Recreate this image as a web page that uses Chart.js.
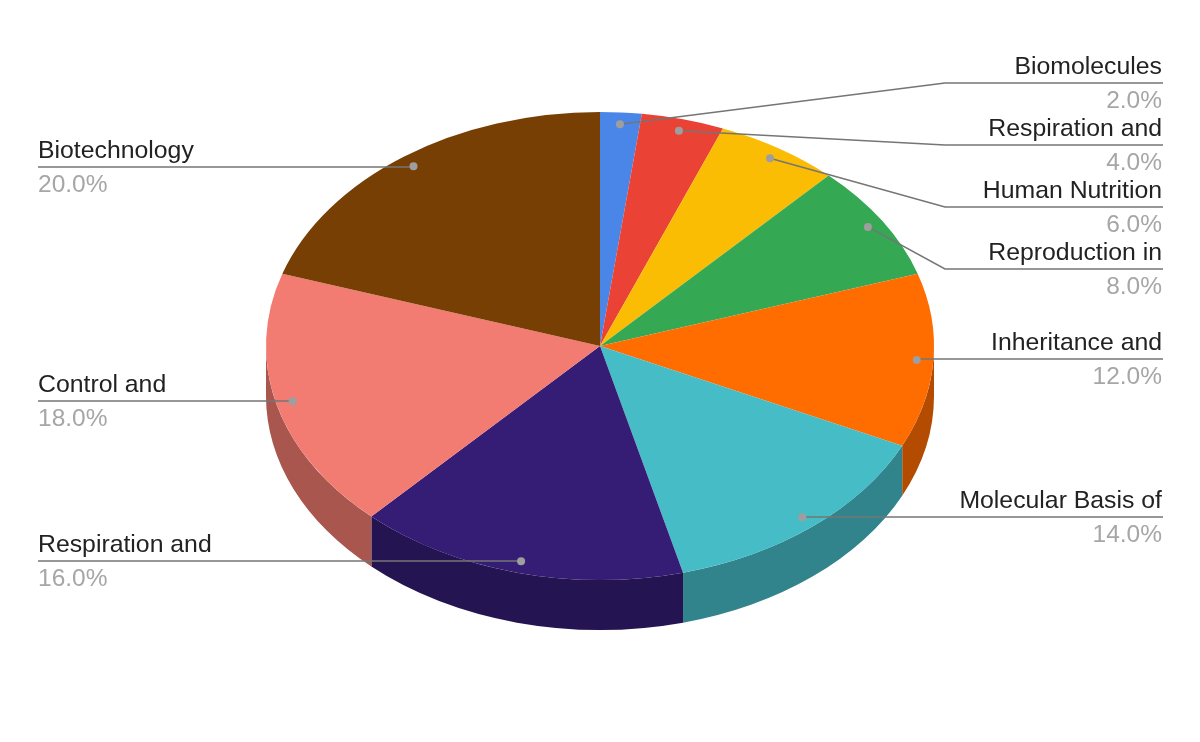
<!DOCTYPE html>
<html>
<head>
    <title>Biology Chapter Weightage</title>
    <script src="https://cdn.jsdelivr.net/npm/chart.js"></script>
    <style>
        body { margin: 0; background: #fff; }
        canvas { display: block; }
    </style>
</head>
<body>
    <canvas id="pie-chart" width="1200" height="742"></canvas>

    <script>
        const categories = ['Biomolecules', 'Respiration and', 'Human Nutrition', 'Reproduction in', 'Inheritance and',
            'Molecular Basis of', 'Respiration and', 'Control and', 'Biotechnology'];
        const shares = [2, 4, 6, 8, 12, 14, 16, 18, 20];
        const sliceColors = ['#4a86e8', '#ea4335', '#fbbc04', '#34a853', '#ff6d01', '#46bdc6', '#351c75', '#f27b72', '#783f04'];
        const wallColors = ['#345ea2', '#a42f25', '#b08403', '#24763a', '#b34c01', '#31848b', '#251452', '#a9564f', '#542c03'];

        // y of each label's horizontal leader line
        const leaderY = [83, 145, 207, 269, 359, 517, 561, 401, 167];

        // tilt of the pie: ellipse height / width and thickness of the side wall
        const tilt = 234 / 334;
        const depth = 50;
        const elbowX = 945;
        const rightEdge = 1163;
        const leftEdge = 38;

        const tiltPlugin = {
            id: 'tilt',
            beforeDatasetsDraw(chart) {
                const ctx = chart.ctx;
                const arcs = chart.getDatasetMeta(0).data;
                const cx = arcs[0].x, cy = arcs[0].y, r = arcs[0].outerRadius;

                // side wall, only the part of each slice on the front half
                arcs.forEach((arc, i) => {
                    const from = Math.max(arc.startAngle, 0);
                    const to = Math.min(arc.endAngle, Math.PI);
                    if (to <= from) return;
                    ctx.beginPath();
                    ctx.ellipse(cx, cy, r, r * tilt, 0, from, to);
                    ctx.ellipse(cx, cy + depth, r, r * tilt, 0, to, from, true);
                    ctx.closePath();
                    ctx.fillStyle = wallColors[i];
                    ctx.fill();
                });

                ctx.save();
                ctx.translate(cx, cy);
                ctx.scale(1, tilt);
                ctx.translate(-cx, -cy);
            },
            afterDatasetsDraw(chart) {
                const ctx = chart.ctx;
                ctx.restore();

                const arcs = chart.getDatasetMeta(0).data;
                const cx = arcs[0].x, cy = arcs[0].y, r = arcs[0].outerRadius;

                arcs.forEach((arc, i) => {
                    const mid = (arc.startAngle + arc.endAngle) / 2;
                    const px = cx + Math.cos(mid) * r * 0.95;
                    const py = cy + Math.sin(mid) * r * 0.95 * tilt;
                    const onLeft = px < cx;
                    const y = leaderY[i];
                    const end = onLeft ? leftEdge : rightEdge;
                    const textX = onLeft ? end : end - 1;

                    ctx.beginPath();
                    ctx.moveTo(px, py);
                    if (Math.abs(py - y) > 3) ctx.lineTo(elbowX, y);
                    else ctx.lineTo(px, y);
                    ctx.lineTo(end, y);
                    ctx.strokeStyle = '#757575';
                    ctx.lineWidth = 1.5;
                    ctx.stroke();

                    ctx.beginPath();
                    ctx.arc(px, py, 4, 0, Math.PI * 2);
                    ctx.fillStyle = '#9e9e9e';
                    ctx.fill();

                    ctx.textAlign = onLeft ? 'left' : 'right';
                    ctx.textBaseline = 'alphabetic';
                    ctx.font = '24.8px "Liberation Sans"';
                    ctx.fillStyle = '#222222';
                    ctx.fillText(chart.data.labels[i], textX, y - 9);
                    ctx.font = '24.5px "Liberation Sans"';
                    ctx.fillStyle = '#a6a6a6';
                    ctx.fillText(shares[i].toFixed(1) + '%', textX, y + 25);
                });
            }
        };

        new Chart(document.getElementById('pie-chart'), {
            type: 'pie',
            data: {
                labels: categories,
                datasets: [{
                    data: shares,
                    backgroundColor: sliceColors,
                    borderWidth: 0,
                }],
            },
            options: {
                responsive: false,
                animation: false,
                layout: { padding: { left: 266, right: 266, top: 12, bottom: 62 } },
                plugins: {
                    legend: { display: false },
                    tooltip: { enabled: false },
                },
            },
            plugins: [tiltPlugin],
        });
    </script>
</body>
</html>
